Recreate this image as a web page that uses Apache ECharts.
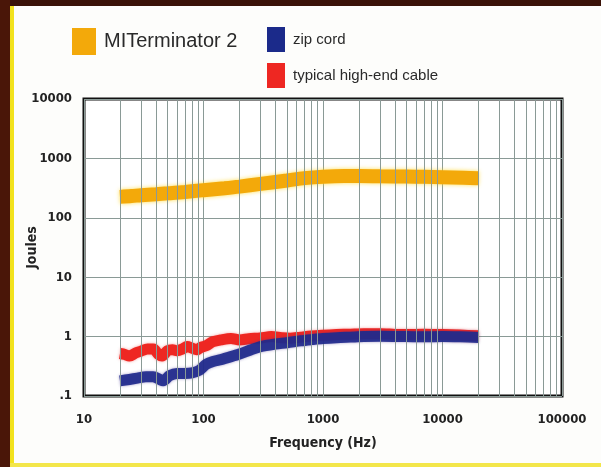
<!DOCTYPE html>
<html>
<head>
<meta charset="utf-8">
<script src="https://cdn.jsdelivr.net/npm/echarts@6/dist/echarts.min.js"></script>
<style>
html,body{margin:0;padding:0;background:#fdfdfb;}
#c{width:601px;height:467px;}
</style>
</head>
<body>
<div id="c"></div>
<script>
// ---- data ----
const seriesNames = ['MITerminator 2', 'zip cord', 'typical high-end cable'];

const miFreq = [20, 25, 30, 40, 50, 70, 100, 150, 200, 300, 500, 700, 1000, 1500, 2000, 3000, 5000, 7000, 10000, 15000, 20000];
const miJoules = [225, 232, 240, 250, 258, 272, 292, 315, 335, 372, 425, 465, 492, 505, 505, 500, 495, 490, 482, 472, 462];

const zipFreq = [20, 24, 28, 33, 38, 43, 46, 52, 60, 70, 80, 92, 105, 120, 140, 170, 200, 250, 300, 400, 500, 650, 800, 1000, 1300, 1700, 2200, 3000, 5000, 7000, 10000, 14000, 20000];
const zipJoules = [0.18, 0.19, 0.20, 0.21, 0.21, 0.19, 0.18, 0.22, 0.24, 0.24, 0.245, 0.27, 0.34, 0.38, 0.41, 0.46, 0.51, 0.60, 0.68, 0.75, 0.79, 0.85, 0.89, 0.93, 0.96, 0.98, 1.0, 1.01, 1.0, 0.99, 1.0, 0.99, 0.97];

const hiFreq = [20, 22, 24, 27, 30, 34, 38, 42, 45, 50, 55, 60, 67, 73, 80, 88, 95, 105, 120, 140, 170, 200, 240, 300, 370, 450, 530, 650, 800, 1000, 1300, 1700, 2200, 3000, 4000, 5000, 7000, 10000, 14000, 20000];
const hiJoules = [0.52, 0.50, 0.47, 0.53, 0.57, 0.62, 0.62, 0.50, 0.47, 0.58, 0.60, 0.58, 0.62, 0.68, 0.64, 0.60, 0.66, 0.70, 0.82, 0.88, 0.93, 0.88, 0.92, 0.95, 1.0, 0.96, 0.94, 0.98, 1.02, 1.05, 1.08, 1.1, 1.12, 1.12, 1.09, 1.08, 1.1, 1.08, 1.06, 1.03];

const xTickLabels = ['10', '100', '1000', '10000', '100000'];
const yTickLabels = ['.1', '1', '10', '100', '1000', '10000'];
const minorFreqs = [20,30,40,50,60,70,80,90,200,300,400,500,600,700,800,900,2000,3000,4000,5000,6000,7000,8000,9000,20000,30000,40000,50000,60000,70000,80000,90000];

function pairs(xs, ys) { return xs.map((x, i) => [x, ys[i]]); }

const cond = "'Liberation Sans Narrow','DejaVu Sans Condensed','Liberation Sans',Arial,sans-serif";
const gridColor = '#8a9a96';

const chart = echarts.init(document.getElementById('c'), null, {renderer: 'canvas'});
chart.setOption({
  backgroundColor: '#fdfdfb',
  animation: false,
  graphic: [
    {type: 'rect', shape: {x: 0, y: 0, width: 601, height: 6}, style: {fill: '#3a1208'}, z: 100},
    {type: 'rect', shape: {x: 0, y: 0, width: 10, height: 467}, style: {fill: '#4a1608'}, z: 100},
    {type: 'rect', shape: {x: 10, y: 6, width: 4, height: 461}, style: {fill: '#f2e21e'}, z: 100},
    {type: 'rect', shape: {x: 10, y: 463, width: 591, height: 4}, style: {fill: '#f3e64a'}, z: 100}
  ],
  legend: [
    {data: [{name: seriesNames[0], icon: 'rect'}], left: 72, top: 28, padding: 0, itemWidth: 24, itemHeight: 27, selectedMode: false,
     textStyle: {fontSize: 20, color: '#2a2a2a', fontFamily: "'Liberation Sans',Arial,sans-serif", padding: [0, 0, 0, 3]}},
    {data: [{name: seriesNames[1], icon: 'rect'}], left: 267, top: 27, padding: 0, itemWidth: 18, itemHeight: 25, selectedMode: false,
     textStyle: {fontSize: 15, color: '#2a2a2a', fontFamily: "'Liberation Sans',Arial,sans-serif", padding: [0, 0, 0, 3]}},
    {data: [{name: seriesNames[2], icon: 'rect'}], left: 267, top: 63, padding: 0, itemWidth: 18, itemHeight: 25, selectedMode: false,
     textStyle: {fontSize: 15, color: '#2a2a2a', fontFamily: "'Liberation Sans',Arial,sans-serif", padding: [0, 0, 0, 3]}}
  ],
  grid: {left: 84, right: 39, top: 99, bottom: 71, show: true, borderColor: '#111111', borderWidth: 3, backgroundColor: '#ffffff'},
  xAxis: {
    type: 'log', logBase: 10, min: 10, max: 100000,
    name: 'Frequency (Hz)', nameLocation: 'middle', nameGap: 40, nameMoveOverlap: false,
    nameTextStyle: {fontFamily: cond, fontWeight: 'bold', fontSize: 14, color: '#222'},
    axisLine: {show: false}, axisTick: {show: false},
    axisLabel: {margin: 17, fontFamily: cond, fontWeight: 'bold', fontSize: 13, color: '#222',
      formatter: (v, i) => xTickLabels[i] !== undefined ? xTickLabels[i] : v},
    splitLine: {show: true, lineStyle: {color: gridColor, width: 1}}
  },
  yAxis: {
    type: 'log', logBase: 10, min: 0.1, max: 10000,
    name: 'Joules', nameLocation: 'middle', nameGap: 45, nameRotate: 90, nameMoveOverlap: false,
    nameTextStyle: {fontFamily: cond, fontWeight: 'bold', fontSize: 14, color: '#222'},
    axisLine: {show: false}, axisTick: {show: false},
    axisLabel: {margin: 12, fontFamily: cond, fontWeight: 'bold', fontSize: 13, color: '#222',
      formatter: (v, i) => yTickLabels[i] !== undefined ? yTickLabels[i] : v},
    splitLine: {show: true, lineStyle: {color: gridColor, width: 1}}
  },
  series: [
    {
      name: 'grid-minor', type: 'line', data: [[10, 0.1]], showSymbol: false, silent: true, z: 1,
      lineStyle: {opacity: 0},
      markLine: {silent: true, symbol: ['none', 'none'], label: {show: false},
        lineStyle: {color: gridColor, width: 1, type: 'solid'},
        data: minorFreqs.map(f => ({xAxis: f}))}
    },
    {
      name: seriesNames[0], type: 'line', data: pairs(miFreq, miJoules), smooth: 0.3, showSymbol: false, z: 3,
      itemStyle: {color: '#f3a90a'},
      lineStyle: {width: 14, color: '#f3a90a', cap: 'butt', shadowColor: 'rgba(255,215,40,0.8)', shadowBlur: 4}
    },
    {
      name: seriesNames[2], type: 'line', data: pairs(hiFreq, hiJoules), smooth: 0.3, showSymbol: false, z: 3,
      itemStyle: {color: '#ee2722'},
      lineStyle: {width: 11, color: '#ee2722', cap: 'butt', join: 'round', shadowColor: 'rgba(240,60,60,0.5)', shadowBlur: 3}
    },
    {
      name: seriesNames[1], type: 'line', data: pairs(zipFreq, zipJoules), smooth: 0.3, showSymbol: false, z: 4,
      itemStyle: {color: '#1b2a8a'},
      lineStyle: {width: 11, color: '#1f2a8c', opacity: 0.92, cap: 'butt', join: 'round', shadowColor: 'rgba(60,40,140,0.5)', shadowBlur: 3}
    }
  ]
});
</script>
</body>
</html>
